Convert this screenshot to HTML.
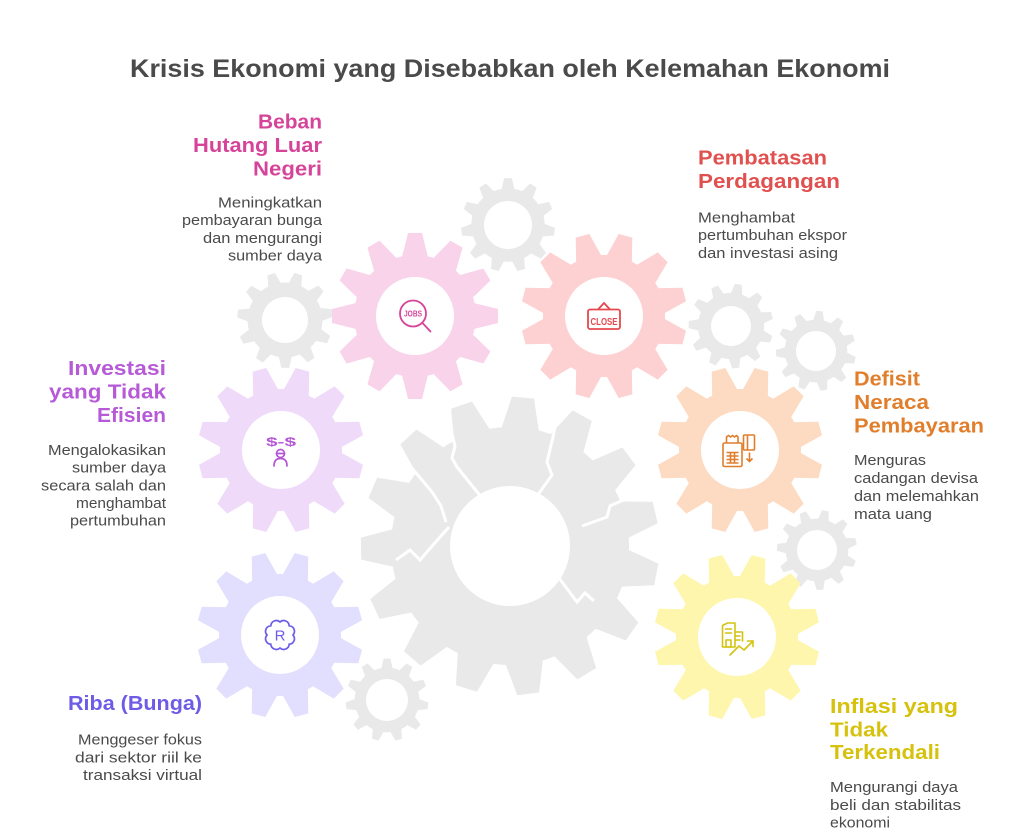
<!DOCTYPE html>
<html>
<head>
<meta charset="utf-8">
<style>
html,body{margin:0;padding:0;background:#fff;}
svg{display:block;}
.h{font-family:"Liberation Sans",sans-serif;font-weight:bold;font-size:20px;}
.d{font-family:"Liberation Sans",sans-serif;font-size:14.5px;fill:#4a4a4a;}
</style>
</head>
<body>
<svg width="1020" height="833" viewBox="0 0 1020 833" xmlns="http://www.w3.org/2000/svg">
<defs>
  <g id="gc">
    <circle r="61"/>
    <polygon id="tc" points="-13.5,-57 -7,-83 7,-83 13.5,-57"/>
    <use href="#tc" transform="rotate(30)"/>
    <use href="#tc" transform="rotate(60)"/>
    <use href="#tc" transform="rotate(90)"/>
    <use href="#tc" transform="rotate(120)"/>
    <use href="#tc" transform="rotate(150)"/>
    <use href="#tc" transform="rotate(180)"/>
    <use href="#tc" transform="rotate(210)"/>
    <use href="#tc" transform="rotate(240)"/>
    <use href="#tc" transform="rotate(270)"/>
    <use href="#tc" transform="rotate(300)"/>
    <use href="#tc" transform="rotate(330)"/>
  </g>
  <g id="gs">
    <circle r="36"/>
    <polygon id="ts" points="-6.5,-34 -3.8,-46 3.8,-46 6.5,-34"/>
    <use href="#ts" transform="rotate(32.73)"/>
    <use href="#ts" transform="rotate(65.45)"/>
    <use href="#ts" transform="rotate(98.18)"/>
    <use href="#ts" transform="rotate(130.91)"/>
    <use href="#ts" transform="rotate(163.64)"/>
    <use href="#ts" transform="rotate(196.36)"/>
    <use href="#ts" transform="rotate(229.09)"/>
    <use href="#ts" transform="rotate(261.82)"/>
    <use href="#ts" transform="rotate(294.55)"/>
    <use href="#ts" transform="rotate(327.27)"/>
  </g>
</defs>

<!-- small gray gears -->
<g fill="#e9e9e9">
  <use href="#gs" transform="translate(508,225) scale(1.02)"/>
  <use href="#gs" transform="translate(285,320) scale(1.04) rotate(16)"/>
  <use href="#gs" transform="translate(731,326) scale(0.92) rotate(10)"/>
  <use href="#gs" transform="translate(816,351) scale(0.87) rotate(5)"/>
  <use href="#gs" transform="translate(817,550) scale(0.87) rotate(12)"/>
  <use href="#gs" transform="translate(387,700) scale(0.9)"/>
</g>
<g fill="#fff">
  <circle cx="508" cy="225" r="24"/>
  <circle cx="285" cy="320" r="23"/>
  <circle cx="731" cy="326" r="20"/>
  <circle cx="816" cy="351" r="20"/>
  <circle cx="817" cy="550" r="20"/>
  <circle cx="387" cy="700" r="21"/>
</g>

<!-- big broken gear -->
<g transform="translate(510,546)" fill="#e9e9e9">
  <circle r="119"/>
  <polygon points="-19,-116 -11,-149 11,-149 19,-116" transform="rotate(5)"/>
  <polygon points="-19,-116 -11,-149 11,-149 19,-116" transform="rotate(29)"/>
  <polygon points="-19,-116 -11,-149 11,-149 19,-116" transform="rotate(53)"/>
  <polygon points="-19,-116 -11,-149 11,-149 19,-116" transform="rotate(77)"/>
  <polygon points="-19,-116 -11,-149 11,-149 19,-116" transform="rotate(101)"/>
  <polygon points="-19,-116 -11,-149 11,-149 19,-116" transform="rotate(125)"/>
  <polygon points="-19,-116 -11,-149 11,-149 19,-116" transform="rotate(149)"/>
  <polygon points="-19,-116 -11,-149 11,-149 19,-116" transform="rotate(173)"/>
  <polygon points="-19,-116 -11,-149 11,-149 19,-116" transform="rotate(197)"/>
  <polygon points="-19,-116 -11,-149 11,-149 19,-116" transform="rotate(221)"/>
  <polygon points="-19,-116 -11,-149 11,-149 19,-116" transform="rotate(245)"/>
  <polygon points="-19,-116 -11,-149 11,-149 19,-116" transform="rotate(269)"/>
  <polygon points="-19,-116 -11,-149 11,-149 19,-116" transform="rotate(293)"/>
  <polygon points="-19,-116 -11,-149 11,-149 19,-116" transform="rotate(317)"/>
  <polygon points="-19,-116 -11,-149 11,-149 19,-116" transform="rotate(341)"/>
  <circle r="60" fill="#fff"/>
</g>
<!-- cracks -->
<g fill="none" stroke="#fff" stroke-width="3" stroke-linejoin="miter">
  <polyline points="452,434 455,446 452,458 457,467 482,498"/>
  <polyline points="410,466 422,480 432,492 441,506 446,522"/>
  <polyline points="449,527 433,545 420,560 410,550 396,560"/>
  <polyline points="555,427 553,437 547,462 552,475 537,496"/>
  <polyline points="582,526 607,517 610,506 621,501 634,497"/>
  <polyline points="559,578 577,602 585,593 594,601"/>
</g>

<!-- colored gears -->
<use href="#gc" fill="#f9d3ea" transform="translate(415,316)"/>
<use href="#gc" fill="#fdd0d1" transform="translate(604,316) rotate(15)"/>
<use href="#gc" fill="#f0daf9" transform="translate(281,450) rotate(15)"/>
<use href="#gc" fill="#e2defd" transform="translate(280,635) rotate(15)"/>
<use href="#gc" fill="#fddbc2" transform="translate(740,450) rotate(15)"/>
<use href="#gc" fill="#fdf6ac" transform="translate(737,637) rotate(15)"/>
<g fill="#fff">
  <circle cx="415" cy="316" r="39"/>
  <circle cx="604" cy="316" r="39"/>
  <circle cx="281" cy="450" r="39"/>
  <circle cx="280" cy="635" r="39"/>
  <circle cx="740" cy="450" r="39"/>
  <circle cx="737" cy="637" r="39"/>
</g>

<!-- icons -->
<g stroke="#d6449a" fill="none" stroke-width="1.8" stroke-linecap="round">
  <circle cx="413" cy="313.5" r="13"/>
  <line x1="422.5" y1="323" x2="430.5" y2="331.5"/>
</g>
<text x="404" y="316.5" font-family="Liberation Sans, sans-serif" font-size="8" font-weight="bold" fill="#d6449a" textLength="18" lengthAdjust="spacingAndGlyphs">JOBS</text>

<g stroke="#e5484d" fill="none" stroke-width="1.8" stroke-linejoin="round">
  <path d="M598,309.5 L604,303 L610,309.5"/>
  <rect x="588" y="309.5" width="32" height="19.5" rx="2"/>
</g>
<text x="590.5" y="325" font-family="Liberation Sans, sans-serif" font-size="10.5" font-weight="bold" fill="#e5484d" textLength="27" lengthAdjust="spacingAndGlyphs">CLOSE</text>

<text x="266" y="446" font-family="Liberation Sans, sans-serif" font-size="12" font-weight="bold" fill="#b556d6" textLength="30" lengthAdjust="spacingAndGlyphs">$-$</text>
<g stroke="#b556d6" fill="none" stroke-width="1.7" stroke-linecap="round">
  <circle cx="280.5" cy="453.5" r="4"/>
  <line x1="276.5" y1="453.5" x2="284.5" y2="453.5"/>
  <path d="M274,466 Q274,458.5 280.5,458.5 Q287,458.5 287,466"/>
</g>

<path transform="translate(280,635)" fill="none" stroke="#6c5ce7" stroke-width="1.7"
 d="M0,-13 A5.5,5.5 0 0 1 9.19,-9.19 A5.5,5.5 0 0 1 13,0 A5.5,5.5 0 0 1 9.19,9.19 A5.5,5.5 0 0 1 0,13 A5.5,5.5 0 0 1 -9.19,9.19 A5.5,5.5 0 0 1 -13,0 A5.5,5.5 0 0 1 -9.19,-9.19 A5.5,5.5 0 0 1 0,-13 Z"/>
<text x="280" y="640.5" text-anchor="middle" font-family="Liberation Sans, sans-serif" font-size="15" fill="#6c5ce7">R</text>

<g stroke="#e07e2b" fill="none" stroke-width="1.6" stroke-linejoin="round">
  <rect x="723" y="443" width="19" height="23.5" rx="1.5"/>
  <path d="M726.5,443 V437 l2,-1.5 2,1.5 2,-1.5 2,1.5 2,-1.5 1.5,1.5 V443"/>
  <path d="M726.5,452.5 h12 M726.5,456 h12 M726.5,459.5 h12 M726.5,463 h12 M730.5,452.5 v10.5 M734.5,452.5 v10.5"/>
  <rect x="743.5" y="435" width="11" height="15" rx="1"/>
  <line x1="747.5" y1="435" x2="747.5" y2="450"/>
  <line x1="749.5" y1="452.5" x2="749.5" y2="461"/>
  <path d="M746.5,458.5 L749.5,461.5 L752.5,458.5"/>
</g>

<g stroke="#d4c312" fill="none" stroke-width="1.6" stroke-linejoin="round" stroke-linecap="round">
  <path d="M722.5,647 V625.5 l5,-2.5 h7.5 V647 Z"/>
  <path d="M735,632 h7.5 v9"/>
  <path d="M725.5,629 h6 M725.5,633 h6 M735,636 h5 M735,640 h5"/>
  <rect x="726" y="640" width="5" height="7"/>
  <polyline points="730,655 739,646 744,650 753,641"/>
  <polyline points="747.5,641 753,641 753,646.5"/>
</g>

<!-- title -->
<text x="130" y="77" font-family="Liberation Sans, sans-serif" font-weight="bold" font-size="25" fill="#4a4a4a" textLength="760" lengthAdjust="spacingAndGlyphs">Krisis Ekonomi yang Disebabkan oleh Kelemahan Ekonomi</text>

<g class="h" fill="#d6449a">
  <text x="258" y="128.5" textLength="64" lengthAdjust="spacingAndGlyphs">Beban</text>
  <text x="193" y="152" textLength="129" lengthAdjust="spacingAndGlyphs">Hutang Luar</text>
  <text x="253" y="175.5" textLength="69" lengthAdjust="spacingAndGlyphs">Negeri</text>
</g>
<g class="d">
  <text x="218" y="207.5" textLength="104" lengthAdjust="spacingAndGlyphs">Meningkatkan</text>
  <text x="182" y="225" textLength="140" lengthAdjust="spacingAndGlyphs">pembayaran bunga</text>
  <text x="203" y="243" textLength="119" lengthAdjust="spacingAndGlyphs">dan mengurangi</text>
  <text x="228" y="260.5" textLength="94" lengthAdjust="spacingAndGlyphs">sumber daya</text>
</g>

<g class="h" fill="#e0504f">
  <text x="698" y="164.5" textLength="129" lengthAdjust="spacingAndGlyphs">Pembatasan</text>
  <text x="698" y="188" textLength="142" lengthAdjust="spacingAndGlyphs">Perdagangan</text>
</g>
<g class="d">
  <text x="698" y="222.5" textLength="97" lengthAdjust="spacingAndGlyphs">Menghambat</text>
  <text x="698" y="240.2" textLength="149" lengthAdjust="spacingAndGlyphs">pertumbuhan ekspor</text>
  <text x="698" y="258" textLength="140" lengthAdjust="spacingAndGlyphs">dan investasi asing</text>
</g>

<g class="h" fill="#b75ad8">
  <text x="68" y="375" textLength="98" lengthAdjust="spacingAndGlyphs">Investasi</text>
  <text x="49" y="398.5" textLength="117" lengthAdjust="spacingAndGlyphs">yang Tidak</text>
  <text x="97" y="422" textLength="69" lengthAdjust="spacingAndGlyphs">Efisien</text>
</g>
<g class="d">
  <text x="48" y="455" textLength="118" lengthAdjust="spacingAndGlyphs">Mengalokasikan</text>
  <text x="72" y="472.7" textLength="94" lengthAdjust="spacingAndGlyphs">sumber daya</text>
  <text x="41" y="490.4" textLength="125" lengthAdjust="spacingAndGlyphs">secara salah dan</text>
  <text x="76" y="508" textLength="90" lengthAdjust="spacingAndGlyphs">menghambat</text>
  <text x="70" y="525.7" textLength="96" lengthAdjust="spacingAndGlyphs">pertumbuhan</text>
</g>

<g class="h" fill="#e07e2b">
  <text x="854" y="385.5" textLength="66" lengthAdjust="spacingAndGlyphs">Defisit</text>
  <text x="854" y="409" textLength="75" lengthAdjust="spacingAndGlyphs">Neraca</text>
  <text x="854" y="432.5" textLength="130" lengthAdjust="spacingAndGlyphs">Pembayaran</text>
</g>
<g class="d">
  <text x="854" y="465" textLength="72" lengthAdjust="spacingAndGlyphs">Menguras</text>
  <text x="854" y="483" textLength="124" lengthAdjust="spacingAndGlyphs">cadangan devisa</text>
  <text x="854" y="501" textLength="125" lengthAdjust="spacingAndGlyphs">dan melemahkan</text>
  <text x="854" y="519" textLength="78" lengthAdjust="spacingAndGlyphs">mata uang</text>
</g>

<g class="h" fill="#6e5ce6">
  <text x="68" y="710" textLength="134" lengthAdjust="spacingAndGlyphs">Riba (Bunga)</text>
</g>
<g class="d">
  <text x="78" y="744.5" textLength="124" lengthAdjust="spacingAndGlyphs">Menggeser fokus</text>
  <text x="75" y="762.3" textLength="127" lengthAdjust="spacingAndGlyphs">dari sektor riil ke</text>
  <text x="83" y="780" textLength="119" lengthAdjust="spacingAndGlyphs">transaksi virtual</text>
</g>

<g class="h" fill="#d6c20d">
  <text x="830" y="713" textLength="128" lengthAdjust="spacingAndGlyphs">Inflasi yang</text>
  <text x="830" y="736.5" textLength="58" lengthAdjust="spacingAndGlyphs">Tidak</text>
  <text x="830" y="759" textLength="110" lengthAdjust="spacingAndGlyphs">Terkendali</text>
</g>
<g class="d">
  <text x="830" y="792" textLength="128" lengthAdjust="spacingAndGlyphs">Mengurangi daya</text>
  <text x="830" y="810" textLength="131" lengthAdjust="spacingAndGlyphs">beli dan stabilitas</text>
  <text x="830" y="827.5" textLength="60" lengthAdjust="spacingAndGlyphs">ekonomi</text>
</g>
</svg>
</body>
</html>
